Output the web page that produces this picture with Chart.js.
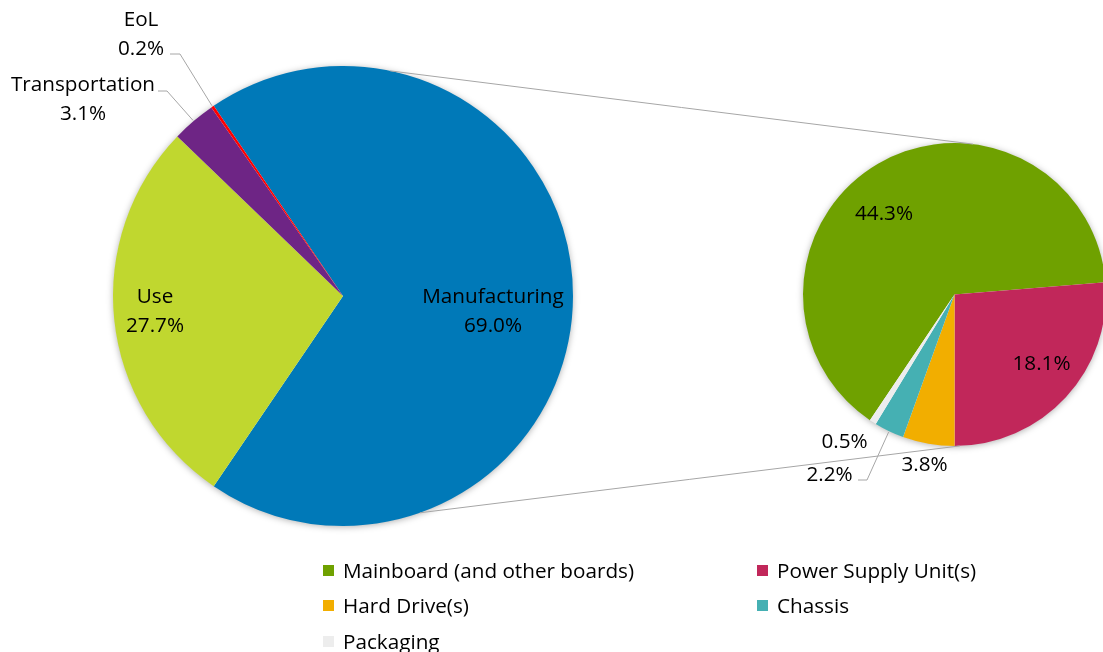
<!DOCTYPE html>
<html>
<head>
<meta charset="utf-8">
<script src="https://cdn.jsdelivr.net/npm/chart.js@4.4.0/dist/chart.umd.min.js"></script>
<style>
  html, body { margin: 0; padding: 0; background: #fff; overflow: hidden; }
  body { width: 1103px; height: 652px; position: relative; font-family: "Open Sans", sans-serif; }
  canvas { position: absolute; left: 0; top: 0; }
  .legend-item { position: absolute; display: flex; align-items: center; font-size: 20.7px; color: #000; white-space: nowrap; line-height: 1; }
  .legend-box { width: 11px; height: 11px; margin-right: 9px; }
</style>
</head>
<body>
<canvas id="stageChart" width="1103" height="652"></canvas>
<canvas id="partChart" width="1110" height="652"></canvas>
<div id="legend"></div>

<script>
// main pie: life cycle stages
const stageLabels = ['Manufacturing', 'Use', 'Transportation', 'EoL'];
const stageValues = [69.0, 27.7, 3.1, 0.2];
const stageColors = ['#0079B8', '#C0D72F', '#6E2585', '#FF0000'];

// secondary pie: manufacturing split by part
const partLabels = ['Mainboard (and other boards)', 'Power Supply Unit(s)', 'Hard Drive(s)', 'Chassis', 'Packaging'];
const partValues = [44.3, 18.1, 3.8, 2.2, 0.5];
const partColors = ['#6FA100', '#C1275A', '#F2AE00', '#45B0B3', '#EDEDED'];

const FONT = '20.7px "Open Sans", sans-serif';
const LINE_GREY = '#A6A6A6';

// label block centres, relative to the pie centre
const stageLabelPos = [[150, 15.5], [-188, 15.5], [-260, -196.5], [-202, -261.5]];
const partLabelPos = [[-70.5, -80], [87, 70], [-30, 170.5], [-125, 180.5], [-110, 147.5]];

// leader lines: [x1, x2, y] of the short horizontal, relative to pie centre (null = none)
const stageLeaders = [null, null, [-185, -176, -205], [-173, -163, -242]];
const partLeaders = [null, null, null, [-96.5, -87.5, 185.5], null];

// shadow under each pie
const pieShadow = {
  id: 'pieShadow',
  beforeDatasetsDraw(chart) {
    const arc = chart.getDatasetMeta(0).data[0];
    const ctx = chart.ctx;
    ctx.save();
    ctx.beginPath();
    ctx.arc(arc.x, arc.y, arc.outerRadius - 0.5, 0, Math.PI * 2);
    ctx.shadowColor = 'rgba(0,0,0,0.35)';
    ctx.shadowBlur = 7;
    ctx.shadowOffsetY = 1;
    ctx.fillStyle = '#fff';
    ctx.fill();
    ctx.restore();
  }
};

function drawLabels(chart, positions, leaders, withName) {
  const meta = chart.getDatasetMeta(0);
  const ctx = chart.ctx;
  const vals = chart.data.datasets[0].data;
  ctx.save();
  ctx.font = FONT;
  ctx.fillStyle = '#000';
  ctx.textAlign = 'center';
  ctx.textBaseline = 'middle';
  meta.data.forEach((arc, i) => {
    const cx = arc.x + positions[i][0];
    const cy = arc.y + positions[i][1];
    const pct = vals[i].toFixed(1) + '%';
    if (withName) {
      ctx.fillText(chart.data.labels[i], cx, cy - 14.5);
      ctx.fillText(pct, cx, cy + 14.5);
    } else {
      ctx.fillText(pct, cx, cy);
    }
    const ld = leaders[i];
    if (ld) {
      const mid = (arc.startAngle + arc.endAngle) / 2;
      ctx.strokeStyle = LINE_GREY;
      ctx.lineWidth = 1;
      ctx.beginPath();
      ctx.moveTo(arc.x + ld[0], arc.y + ld[2]);
      ctx.lineTo(arc.x + ld[1], arc.y + ld[2]);
      ctx.lineTo(arc.x + Math.cos(mid) * (arc.outerRadius + 1), arc.y + Math.sin(mid) * (arc.outerRadius + 1));
      ctx.stroke();
    }
  });
  ctx.restore();
}

const stageLabelPlugin = {
  id: 'stageLabels',
  afterDatasetsDraw(chart) { drawLabels(chart, stageLabelPos, stageLeaders, true); }
};

const partLabelPlugin = {
  id: 'partLabels',
  afterDatasetsDraw(chart) {
    drawLabels(chart, partLabelPos, partLeaders, false);
    // connector lines between the two pies
    const a = leftChart.getDatasetMeta(0).data[0];
    const b = chart.getDatasetMeta(0).data[0];
    const rad = d => d * Math.PI / 180;
    const ctx = chart.ctx;
    ctx.save();
    ctx.strokeStyle = LINE_GREY;
    ctx.lineWidth = 1;
    [[-78.2, -83], [70.5, 88]].forEach(([da, db]) => {
      ctx.beginPath();
      ctx.moveTo(a.x + Math.cos(rad(da)) * a.outerRadius, a.y + Math.sin(rad(da)) * a.outerRadius);
      ctx.lineTo(b.x + Math.cos(rad(db)) * b.outerRadius, b.y + Math.sin(rad(db)) * b.outerRadius);
      ctx.stroke();
    });
    ctx.restore();
  }
};

const commonOptions = {
  responsive: false,
  animation: false,
  events: [],
  plugins: { legend: { display: false }, tooltip: { enabled: false } }
};

const leftChart = new Chart(document.getElementById('stageChart'), {
  type: 'pie',
  data: {
    labels: stageLabels,
    datasets: [{ data: stageValues, backgroundColor: stageColors, borderWidth: 0, hoverOffset: 0 }]
  },
  options: {
    ...commonOptions,
    radius: 230,
    rotation: -34.2,
    layout: { padding: { left: 0, right: 417, top: 0, bottom: 60 } }
  },
  plugins: [pieShadow, stageLabelPlugin]
});

const rightChart = new Chart(document.getElementById('partChart'), {
  type: 'pie',
  data: {
    labels: partLabels,
    datasets: [{ data: partValues, backgroundColor: partColors, borderWidth: 0, hoverOffset: 0 }]
  },
  options: {
    ...commonOptions,
    radius: 151.5,
    rotation: 213.94,
    layout: { padding: { left: 799, right: 0, top: 0, bottom: 63 } }
  },
  plugins: [pieShadow, partLabelPlugin]
});

// legend, two columns
const legendCols = [323, 757];
const legendRows = [570, 605, 641];
const legend = document.getElementById('legend');
partLabels.forEach((name, i) => {
  const item = document.createElement('div');
  item.className = 'legend-item';
  item.style.left = legendCols[i % 2] + 'px';
  item.style.top = (legendRows[Math.floor(i / 2)] - 10) + 'px';
  item.style.height = '20px';
  item.innerHTML = `<span class="legend-box" style="background:${partColors[i]}"></span>${name}`;
  legend.appendChild(item);
});
</script>
</body>
</html>
